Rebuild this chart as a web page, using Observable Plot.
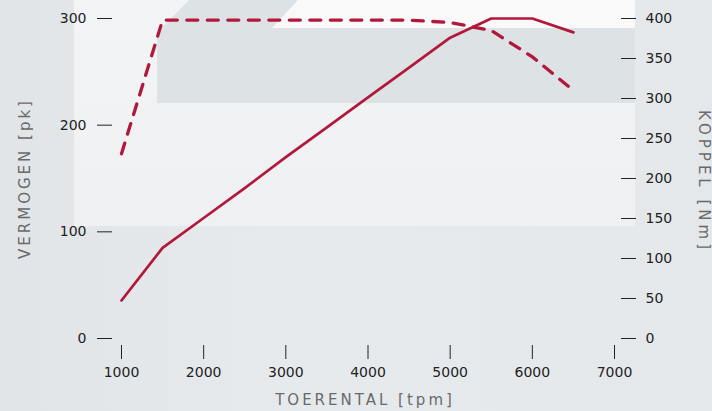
<!DOCTYPE html>
<html><head><meta charset="utf-8">
<script src="https://cdn.jsdelivr.net/npm/d3@7"></script>
<script src="https://cdn.jsdelivr.net/npm/@observablehq/plot@0.6"></script>
<style>
html,body{margin:0;padding:0;}
body{width:712px;height:411px;overflow:hidden;position:relative;background:linear-gradient(90deg,#e1e5e8 0%,#e7eaed 40%,#e5e8eb 100%);font-family:"DejaVu Sans",sans-serif;}
.bg{position:absolute;}
.layer{position:absolute;left:0;top:0;}
.layer svg{background:transparent !important;overflow:visible;}
.layer g[aria-label^="x-axis"], .layer g[aria-label^="y-axis"]{font-size:14px;font-family:"DejaVu Sans",sans-serif;}
.layer g[aria-label^="x-axis"] text, .layer g[aria-label^="y-axis"] text{fill:#222;}
.layer g[aria-label^="x-axis"] line{stroke:#333;stroke-width:1;}
#p1 g[aria-label^="y-axis"] line{stroke:#6a6a6a;stroke-width:1.5;}
#p2 g[aria-label^="y-axis"] line{stroke:#555;stroke-width:1.5;}
</style></head><body>
<div class="bg" style="left:74px;top:0;width:561px;height:226px;background:linear-gradient(180deg,#f3f4f6 0%,#eef0f2 100%)"></div>
<div class="bg" style="left:272px;top:0;width:363px;height:28px;background:#f9f9fa"></div>
<div class="bg" style="left:0;top:0;width:712px;height:411px;background:#dde2e5;clip-path:polygon(189px 0,298px 0,272px 28px,635px 28px,635px 103px,157px 103px,157px 33px)"></div>
<div id="p1" class="layer"></div>
<div id="p2" class="layer"></div>
<script>
const rpm    = [1000, 1500, 2000, 2500, 3000, 3500, 4000, 4500, 5000, 5500, 6000, 6500];
const power  = [35.6, 85,   113,  141,  170,  198,  226,  254,  282,  300,  300,  287];
const torque = [231,  398,  398,  398,  398,  398,  398,  398,  395,  385,  352,  310];
const xTicks = [1000, 2000, 3000, 4000, 5000, 6000, 7000];
const powerTicks = [0, 100, 200, 300];
const torqueTicks = [0, 50, 100, 150, 200, 250, 300, 350, 400];
const powerMax = 300, torqueMax = 400;

const data = rpm.map((r, i) => ({rpm: r, power: power[i], torque: torque[i]}));
const red = "#b2183b";
const font = "DejaVu Sans, sans-serif";
const common = {
  width: 712, height: 411,
  marginLeft: 121, marginRight: 98, marginTop: 18, marginBottom: 73,
  style: {background: "transparent", fontFamily: font, fontSize: "14px", color: "#222", overflow: "visible"}
};

const plot1 = Plot.plot({
  ...common,
  x: {domain: [1000, 7000], ticks: xTicks, tickSize: 14, tickPadding: 8, tickFormat: d => String(d), label: null, axis: "bottom"},
  y: {domain: [0, powerMax], ticks: powerTicks, tickSize: 15, tickPadding: 11, tickFormat: d => String(d), label: null, axis: "left"},
  marks: [
    Plot.line(data, {x: "rpm", y: "power", stroke: red, strokeWidth: 2.7}),
    Plot.text(["VERMOGEN [pk]"], {frameAnchor: "left", rotate: -90, dx: -96, textAnchor: "middle", lineAnchor: "middle", fill: "#6a6a6a", fontSize: 15}),
    Plot.text(["KOPPEL [Nm]"], {frameAnchor: "right", rotate: 90, dx: 89, dy: 3, textAnchor: "middle", lineAnchor: "middle", fill: "#6a6a6a", fontSize: 15}),
    Plot.text(["TOERENTAL [tpm]"], {frameAnchor: "bottom", dy: 62, dx: -3, textAnchor: "middle", lineAnchor: "middle", fill: "#6a6a6a", fontSize: 15})
  ]
});

const plot2 = Plot.plot({
  ...common,
  x: {domain: [1000, 7000], axis: null},
  y: {domain: [0, torqueMax], ticks: torqueTicks, tickSize: 15, tickPadding: 10, tickFormat: d => String(d), label: null, axis: "right"},
  marks: [
    Plot.line(data, {x: "rpm", y: "torque", stroke: red, strokeWidth: 3.3, strokeDasharray: "11,9.5"})
  ]
});

function shift(svg, prefix, dx, dy) {
  d3.select(svg).selectAll(`g[aria-label^="${prefix}"]`).each(function () {
    const t = this.getAttribute("transform") || "";
    this.setAttribute("transform", `translate(${dx},${dy}) ${t}`);
  });
}
shift(plot1, "y-axis", -9, 0);
shift(plot1, "x-axis", 0, 7);
shift(plot2, "y-axis", 6, 0);
d3.select(plot1).selectAll("text").filter(function () { return /\[/.test(this.textContent); })
  .attr("letter-spacing", function () { return /KOPPEL/.test(this.textContent) ? "4px" : "3px"; });
document.getElementById("p1").appendChild(plot1);
document.getElementById("p2").appendChild(plot2);
</script>
</body></html>
